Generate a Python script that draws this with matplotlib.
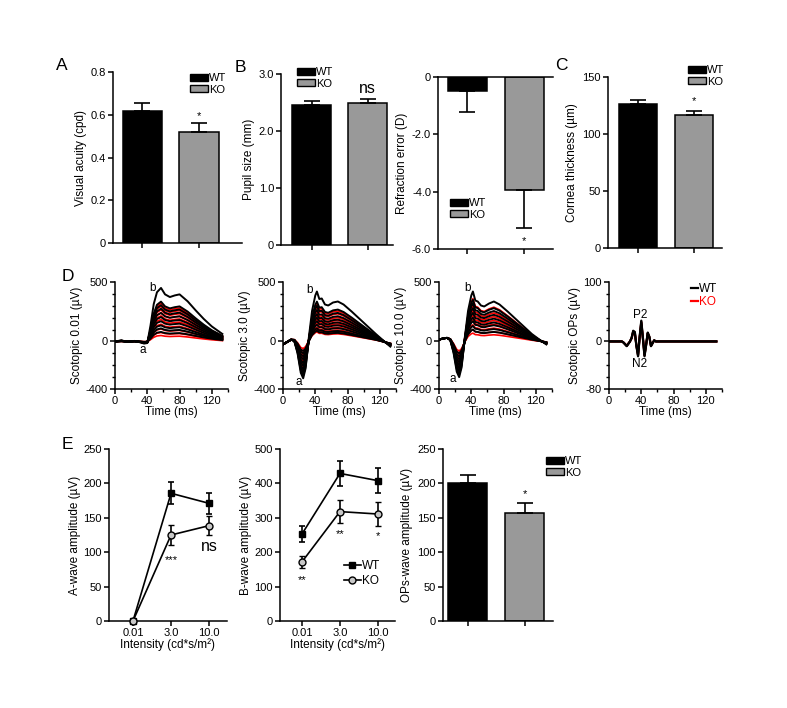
import numpy as np
import matplotlib
matplotlib.use("Agg")
import matplotlib.pyplot as plt
from matplotlib.patches import Patch
from matplotlib.lines import Line2D
from matplotlib.ticker import MultipleLocator

plt.rcParams['font.family'] = ['Liberation Sans', 'DejaVu Sans']
plt.rcParams['axes.unicode_minus'] = False

BLACK = '#000000'
GREY = '#999999'
RED = '#ff0000'

# ---- data ----
groups = ['WT', 'KO']
acuity = [0.617, 0.521]
acuity_err = [0.036, 0.042]
pupil = [2.456, 2.50]
pupil_err = [0.075, 0.055]
refraction = [-0.48, -3.94]
refraction_err = [0.73, 1.32]
cornea = [126.0, 116.7]
cornea_err = [3.8, 3.7]
ops_amp = [200.0, 157.5]
ops_amp_err = [12.0, 14.5]

intensity = ['0.01', '3.0', '10.0']
awave_wt = [0, 185.6, 171]
awave_wt_err = [0, 16, 15]
awave_ko = [0, 125, 138.6]
awave_ko_err = [0, 14, 14]
bwave_wt = [253, 429, 408]
bwave_wt_err = [24, 37, 36]
bwave_ko = [172, 318, 311]
bwave_ko_err = [18, 34, 34]

# ERG waveforms: sample times (ms) and normalised shapes, per-trace amplitudes (uV)
t_d1 = [0, 8, 16, 24, 32, 36, 40, 44, 48, 52, 57, 62, 68, 74, 80, 90, 100, 110, 120, 133]
shape_d1 = [0, 0.02, -0.01, 0.01, -0.02, -0.04, -0.03, 0.3, 0.7, 0.92, 1.0, 0.88, 0.83, 0.86,
            0.88, 0.75, 0.58, 0.42, 0.28, 0.14]
d1_wt_b = [450, 335, 305, 275, 240, 205, 170, 135, 110, 80]
d1_ko_b = [320, 295, 265, 240, 215, 185, 145, 105, 75, 50]

t_d2 = [0, 5, 10, 14, 18, 22, 25, 28, 32, 36, 40, 42, 45, 48, 52, 56, 62, 68, 75, 85, 95, 105,
        115, 125, 133]
base_d2 = [-25, -5, 15, 18, 10, 0, 0, 0, 0, 0, 0, 0, 0, 0, 0, 0, 0, 0, 0, 0, 0, 0, 0, -5, -10]
awave_shape = [0, 0, 0, -0.05, -0.35, -0.85, -1.0, -0.8, -0.3, -0.05, 0, 0, 0, 0, 0, 0, 0, 0,
               0, 0, 0, 0, 0, 0, 0]
bwave_d2 = [0, 0, 0, 0, 0, 0, 0, 0.05, 0.3, 0.65, 0.92, 1.0, 0.85, 0.86, 0.74, 0.72, 0.78, 0.8,
            0.74, 0.6, 0.45, 0.3, 0.15, 0.02, -0.08]
d2_wt_a = [310, 285, 260, 235, 205, 180, 150, 125, 100, 80]
d2_wt_b = [420, 335, 300, 265, 230, 200, 170, 140, 110, 90]
d2_ko_a = [250, 220, 195, 165, 140, 120, 100, 80, 60]
d2_ko_b = [320, 290, 250, 220, 185, 150, 120, 100, 80]

base_d3 = [15, 25, 30, 25, 10, 0, 0, 0, 0, 0, 0, 0, 0, 0, 0, 0, 0, 0, 0, 0, 0, 0, 0, 0, 0]
bwave_d3 = [0, 0, 0, 0, 0, 0, 0, 0.05, 0.3, 0.65, 0.92, 1.0, 0.82, 0.8, 0.72, 0.7, 0.76, 0.8,
            0.74, 0.6, 0.45, 0.3, 0.15, 0.03, -0.06]
d3_wt_a = [300, 275, 250, 225, 200, 175, 150, 125, 100]
d3_wt_b = [420, 350, 320, 280, 240, 200, 170, 130, 100]
d3_ko_a = [240, 215, 185, 160, 140, 120, 100, 80]
d3_ko_b = [360, 300, 260, 220, 180, 140, 100, 70]

t_op = [0, 10, 16, 18, 20, 22, 24, 26, 28, 30, 32, 34, 36, 38, 40, 42, 44, 46, 48, 50, 52, 54,
        56, 58, 60, 70, 133]
op_wave = [0, 0, 0, -2, -5, -8, -4, 0, 6, 18, 16, -8, -25, 8, 35, 6, -25, -6, 15, 8, -8, -3, 2,
           0, 0, 0, 0]
op_wt_scale = [1.0, 0.93]
op_ko_scale = [0.95, 0.85]

W, H = 787, 708
fig = plt.figure(figsize=(W / 100, H / 100), dpi=100)

TICK_FS = 8
LABEL_FS = 8.5


def px_axes(left, top, right, bottom):
    return fig.add_axes([left / W, 1 - bottom / H, (right - left) / W, (bottom - top) / H])


def style(ax):
    ax.spines['top'].set_visible(False)
    ax.spines['right'].set_visible(False)
    for s in ax.spines.values():
        s.set_linewidth(1.1)
    ax.tick_params(direction='out', length=3.5, width=1.1, labelsize=TICK_FS, pad=1.5)
    ax.tick_params(which='minor', direction='out', length=2.5, width=1.0)


def bar_legend(ax, x, y):
    handles = [Patch(facecolor=BLACK, edgecolor='black', lw=1),
               Patch(facecolor=GREY, edgecolor='black', lw=1)]
    ax.legend(handles, groups, loc='upper left', bbox_to_anchor=(x / W, 1 - y / H),
              bbox_transform=fig.transFigure, frameon=False, fontsize=8, borderpad=0,
              borderaxespad=0, handlelength=1.6, handleheight=0.6, handletextpad=0.1,
              labelspacing=0.15)


def bar_panel(ax, vals, errs, xlim, ylim, ticks, ticklabels, ylabel, down=False):
    x = np.arange(2)
    ax.bar(x, vals, width=0.69, color=[BLACK, GREY], edgecolor='black', linewidth=1.1)
    yerr = [errs, [0, 0]] if down else [[0, 0], errs]
    ax.errorbar(x, vals, yerr=yerr, fmt='none', ecolor='black', elinewidth=1.2, capsize=6,
                capthick=1.2)
    ax.set_xlim(*xlim)
    ax.set_ylim(*ylim)
    ax.set_xticks(x)
    ax.set_xticklabels([])
    ax.set_yticks(ticks)
    ax.set_yticklabels(ticklabels)
    ax.set_ylabel(ylabel, fontsize=LABEL_FS, labelpad=3)
    style(ax)


def star(ax, x, y, s='*', size=8):
    ax.text(x, y, s, ha='center', va='center', fontsize=size)


# ---- row 1 ----
ax = px_axes(113, 72, 242, 243)
bar_panel(ax, acuity, acuity_err, (-0.52, 1.76), (0, 0.8), [0, 0.2, 0.4, 0.6, 0.8],
          ['0', '0.2', '0.4', '0.6', '0.8'], 'Visual acuity (cpd)')
bar_legend(ax, 190, 73)
star(ax, 1, 0.596)

ax = px_axes(281, 74, 393, 245)
bar_panel(ax, pupil, pupil_err, (-0.55, 1.45), (0, 3.0), [0, 1, 2, 3],
          ['0', '1.0', '2.0', '3.0'], 'Pupil size (mm)')
bar_legend(ax, 297, 67)
star(ax, 1, 2.75, 'ns', 11.5)

ax = px_axes(438, 77, 553, 249)
bar_panel(ax, refraction, refraction_err, (-0.52, 1.51), (-6.0, 0), [0, -2, -4, -6],
          ['0', '-2.0', '-4.0', '-6.0'], 'Refraction error (D)', down=True)
ax.spines['top'].set_visible(True)
bar_legend(ax, 450, 198)
star(ax, 1, -5.74)

ax = px_axes(608, 77, 722, 248)
bar_panel(ax, cornea, cornea_err, (-0.54, 1.5), (0, 150), [0, 50, 100, 150],
          ['0', '50', '100', '150'], 'Cornea thickness (µm)')
bar_legend(ax, 688, 65)
star(ax, 1, 128.5)


# ---- row D: ERG traces ----
def erg_axes(left, ylabel, ylim, ticks, minor):
    ax = px_axes(left, 282, left + 113, 389)
    ax.set_xlim(0, 140)
    ax.set_ylim(*ylim)
    ax.xaxis.set_minor_locator(MultipleLocator(20))
    ax.set_xticks([0, 40, 80, 120])
    ax.set_yticks(ticks)
    ax.yaxis.set_minor_locator(MultipleLocator(minor))
    ax.set_xlabel('Time (ms)', fontsize=LABEL_FS, labelpad=0)
    ax.set_ylabel(ylabel, fontsize=LABEL_FS, labelpad=2)
    style(ax)
    return ax


ax = erg_axes(115, 'Scotopic 0.01 (µV)', (-400, 500), [-400, 0, 500], 100)
for b in d1_ko_b:
    ax.plot(t_d1, b * np.array(shape_d1), color=RED, lw=1.2)
for b in d1_wt_b:
    ax.plot(t_d1, b * np.array(shape_d1), color=BLACK, lw=1.4)
ax.text(47, 450, 'b', ha='center', va='center', fontsize=LABEL_FS)
ax.text(35, -72, 'a', ha='center', va='center', fontsize=LABEL_FS)

for left, label, base, bshape, wa, wb, ka, kb, pos in [
        (283, 'Scotopic 3.0 (µV)', base_d2, bwave_d2, d2_wt_a, d2_wt_b, d2_ko_a, d2_ko_b,
         ((33, 430), (19, -340))),
        (439, 'Scotopic 10.0 (µV)', base_d3, bwave_d3, d3_wt_a, d3_wt_b, d3_ko_a, d3_ko_b,
         ((35, 450), (17, -320)))]:
    ax = erg_axes(left, label, (-400, 500), [-400, 0, 500], 100)
    for a, b in zip(ka, kb):
        ax.plot(t_d2, np.array(base) + a * np.array(awave_shape) + b * np.array(bshape),
                color=RED, lw=1.2)
    for a, b in zip(wa, wb):
        ax.plot(t_d2, np.array(base) + a * np.array(awave_shape) + b * np.array(bshape),
                color=BLACK, lw=1.4)
    ax.text(pos[0][0], pos[0][1], 'b', ha='center', va='center', fontsize=LABEL_FS)
    ax.text(pos[1][0], pos[1][1], 'a', ha='center', va='center', fontsize=LABEL_FS)

ax = erg_axes(609, 'Scotopic OPs (µV)', (-80, 100), [-80, 0, 100], 20)
for s in op_ko_scale:
    ax.plot(t_op, s * np.array(op_wave), color=RED, lw=1.4)
for s in op_wt_scale:
    ax.plot(t_op, s * np.array(op_wave), color=BLACK, lw=1.6)
op_handles = [Line2D([], [], color=BLACK, lw=1.6), Line2D([], [], color=RED, lw=1.6)]
ax.legend(op_handles, groups, loc='upper left', bbox_to_anchor=(691 / W, 1 - 283 / H),
          bbox_transform=fig.transFigure, frameon=False, fontsize=LABEL_FS, borderpad=0,
          borderaxespad=0, handlelength=0.6, handletextpad=0.1, labelspacing=0.1,
          labelcolor='linecolor')
ax.text(39, 44, 'P2', ha='center', va='center', fontsize=LABEL_FS)
ax.text(37.5, -38, 'N2', ha='center', va='center', fontsize=LABEL_FS)


# ---- row E ----
def amp_axes(left, right, xlim, ylim, step, ylabel):
    ax = px_axes(left, 449, right, 621)
    ax.set_xlim(*xlim)
    ax.set_ylim(*ylim)
    ax.set_xticks(range(3))
    ax.set_xticklabels(intensity)
    ax.yaxis.set_major_locator(MultipleLocator(step))
    ax.set_xlabel('Intensity (cd*s/m²)', fontsize=LABEL_FS, labelpad=0)
    ax.set_ylabel(ylabel, fontsize=LABEL_FS, labelpad=2)
    style(ax)
    return ax


def amp_lines(ax, wt, wt_err, ko, ko_err):
    x = np.arange(3)
    ax.errorbar(x, wt, yerr=wt_err, color=BLACK, lw=1.2, marker='s', ms=5, mfc=BLACK,
                mec=BLACK, capsize=2.5, capthick=1.2, elinewidth=1.2, clip_on=False,
                zorder=3)
    ax.errorbar(x, ko, yerr=ko_err, color=BLACK, lw=1.2, marker='o', ms=5, mfc='#c8c8c8',
                mec=BLACK, mew=1.0, capsize=2.5, capthick=1.2, elinewidth=1.2,
                clip_on=False, zorder=3)


ax = amp_axes(109, 227, (-0.63, 2.47), (0, 250), 50, 'A-wave amplitude (µV)')
amp_lines(ax, awave_wt, awave_wt_err, awave_ko, awave_ko_err)
star(ax, 1, 88, '***')
star(ax, 2, 108, 'ns', 11.5)

ax = amp_axes(280, 395, (-0.58, 2.45), (0, 500), 100, 'B-wave amplitude (µV)')
amp_lines(ax, bwave_wt, bwave_wt_err, bwave_ko, bwave_ko_err)
star(ax, 0, 118, '**')
star(ax, 1, 254, '**')
star(ax, 2, 246, '*')
e_handles = [Line2D([], [], color=BLACK, lw=1.2, marker='s', ms=5, mfc=BLACK),
             Line2D([], [], color=BLACK, lw=1.2, marker='o', ms=5, mfc='#c8c8c8', mew=1.0)]
ax.legend(e_handles, groups, loc='upper left', bbox_to_anchor=(344 / W, 1 - 560 / H),
          bbox_transform=fig.transFigure, frameon=False, fontsize=LABEL_FS, borderpad=0,
          borderaxespad=0, handlelength=1.4, handletextpad=0.1, labelspacing=0.25)

ax = px_axes(443, 449, 553, 621)
bar_panel(ax, ops_amp, ops_amp_err, (-0.43, 1.5), (0, 250), [0, 50, 100, 150, 200, 250],
          ['0', '50', '100', '150', '200', '250'], 'OPs-wave amplitude (µV)')
bar_legend(ax, 546, 456)
star(ax, 1, 184)

# panel letters
for letter, x, y in [('A', 62, 65), ('B', 240, 67), ('C', 561, 65), ('D', 68, 277),
                     ('E', 67, 445)]:
    fig.text(x / W, 1 - y / H, letter, fontsize=12.5, ha='center', va='center')

fig.savefig('out.png', dpi=100)
